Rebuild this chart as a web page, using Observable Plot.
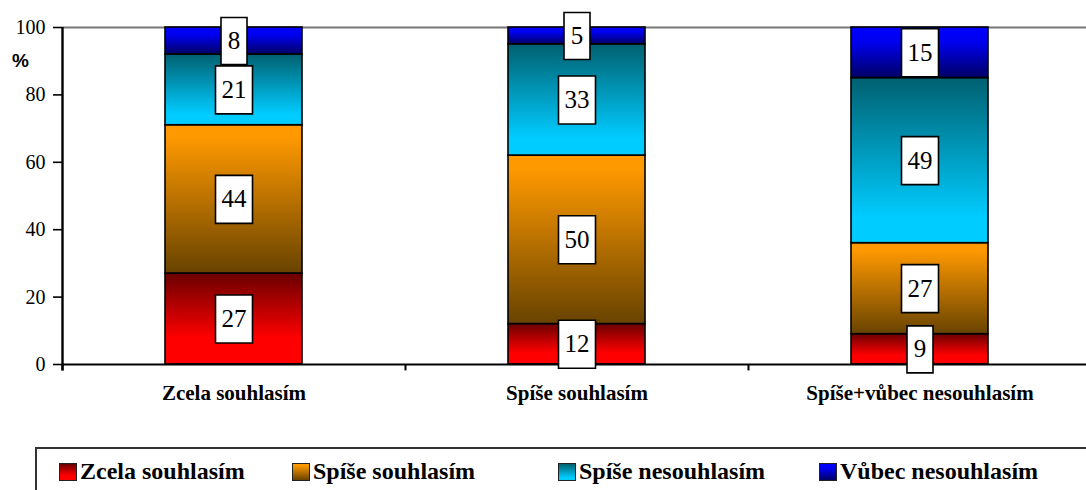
<!DOCTYPE html>
<html>
<head>
<meta charset="utf-8">
<script src="https://cdn.jsdelivr.net/npm/d3@7"></script>
<script src="https://cdn.jsdelivr.net/npm/@observablehq/plot@0.6"></script>
<style>
  html, body { margin: 0; padding: 0; background: #fff; overflow: hidden; }
  #wrap { position: relative; width: 1086px; height: 490px; overflow: hidden; }
  #pct { position: absolute; left: 12px; top: 50px; font-family: 'Liberation Sans', sans-serif; font-weight: bold; font-size: 19px; }
  #legend { position: absolute; left: 35px; top: 447px; width: 1100px; height: 80px; border: 2px solid #333; box-sizing: border-box; }
  .item { position: absolute; top: 9px; display: flex; align-items: center; font-family: 'Liberation Serif', serif; font-weight: bold; font-size: 24px; white-space: nowrap; }
  .sw { width: 18px; height: 18px; border: 1.5px solid #222; margin-right: 3px; box-sizing: border-box; }
</style>
</head>
<body>
<div id="wrap"><div id="pct">%</div><div id="legend"></div></div>
<script>
const categories = ["Zcela souhlasím", "Spíše souhlasím", "Spíše+vůbec nesouhlasím"];
const series = ["Zcela souhlasím", "Spíše souhlasím", "Spíše nesouhlasím", "Vůbec nesouhlasím"];
const valuesZcela = [27, 44, 21, 8];
const valuesSpise = [12, 50, 33, 5];
const valuesNesouhlas = [9, 27, 49, 15];
const yTicks = [0, 20, 40, 60, 80, 100];

const gradients = [
  {id: "gRed", stops: [[0, "#6a0000"], [0.72, "#ff0000"], [1, "#ff0000"]]},
  {id: "gOrange", stops: [[0, "#ff9900"], [0.08, "#ff9900"], [1, "#684300"]]},
  {id: "gCyan", stops: [[0, "#006070"], [0.85, "#00ccff"], [1, "#00ccff"]]},
  {id: "gBlue", stops: [[0, "#0000ff"], [0.3, "#0000ee"], [1, "#000066"]]}
];

const valueLists = [valuesZcela, valuesSpise, valuesNesouhlas];
const rows = [];
categories.forEach((cat, i) => {
  let cum = 0;
  series.forEach((s, j) => {
    const v = valueLists[i][j];
    rows.push({cat, series: s, value: v, mid: cum + v / 2});
    cum += v;
  });
});

function rectSymbol(w, h) {
  return {draw(ctx) {
    ctx.moveTo(-w / 2, -h / 2); ctx.lineTo(w / 2, -h / 2);
    ctx.lineTo(w / 2, h / 2); ctx.lineTo(-w / 2, h / 2); ctx.closePath();
  }};
}

const serif = "'Liberation Serif', serif";
const step = (1091 - 62) / 3;

const chart = Plot.plot({
  width: 1086,
  height: 430,
  marginLeft: 62,
  marginRight: 0,
  marginTop: 27,
  marginBottom: 66,
  style: {fontFamily: serif, color: "#000", overflow: "visible", background: "transparent"},
  x: {domain: categories, range: [62, 1091], paddingInner: 0.6, paddingOuter: 0.3, label: null},
  y: {domain: [0, 100], label: null},
  color: {domain: series, range: gradients.map(g => `url(#${g.id})`)},
  marks: [
    Plot.ruleY([100], {stroke: "#777", strokeWidth: 2}),
    Plot.barY(rows, {x: "cat", y: "value", fill: "series", stroke: "#000", strokeWidth: 1.6}),
    Plot.ruleY([0], {stroke: "#000", strokeWidth: 2.2}),
    Plot.ruleX(categories, {x: d => d, dx: -step / 2, y1: -1.9, y2: 0, stroke: "#000", strokeWidth: 2}),
    Plot.ruleX([categories[0]], {x: d => d, dx: -step / 2, y1: -1.9, y2: 100, stroke: "#000", strokeWidth: 2.4}),
    Plot.axisY(yTicks, {tickSize: 9, tickPadding: 8, fontSize: 20, fontFamily: serif, strokeWidth: 1.6, label: null}),
    Plot.axisX({tickSize: 0, tickPadding: 21, fontSize: 21, fontWeight: "bold", fontFamily: serif, label: null}),
    Plot.dot(rows.filter(d => d.value >= 10), {x: "cat", y: "mid", r: 5, symbol: rectSymbol(37, 48), fill: "#fff", stroke: "#000", strokeWidth: 1.6}),
    Plot.dot(rows.filter(d => d.value < 10), {x: "cat", y: "mid", r: 5, symbol: rectSymbol(26, 47), fill: "#fff", stroke: "#000", strokeWidth: 1.6}),
    Plot.text(rows, {x: "cat", y: "mid", text: d => String(d.value), fontSize: 25, fontFamily: serif, fill: "#000"})
  ]
});

// gradient definitions
const NS = "http://www.w3.org/2000/svg";
const defs = document.createElementNS(NS, "defs");
gradients.forEach(g => {
  const lg = document.createElementNS(NS, "linearGradient");
  lg.setAttribute("id", g.id);
  lg.setAttribute("x1", "0"); lg.setAttribute("y1", "0");
  lg.setAttribute("x2", "0"); lg.setAttribute("y2", "1");
  g.stops.forEach(([o, c]) => {
    const st = document.createElementNS(NS, "stop");
    st.setAttribute("offset", o);
    st.setAttribute("stop-color", c);
    lg.appendChild(st);
  });
  defs.appendChild(lg);
});
chart.insertBefore(defs, chart.firstChild);
chart.style.position = "absolute";
chart.style.left = "0px";
chart.style.top = "0px";
document.getElementById("wrap").appendChild(chart);

// legend
const legendLefts = [22, 255, 521, 782];
const legend = document.getElementById("legend");
series.forEach((s, i) => {
  const g = gradients[i];
  const item = document.createElement("div");
  item.className = "item";
  item.style.left = legendLefts[i] + "px";
  const sw = document.createElement("div");
  sw.className = "sw";
  sw.style.background = `linear-gradient(to bottom, ${g.stops.map(([o, c]) => `${c} ${o * 100}%`).join(", ")})`;
  const label = document.createElement("span");
  label.textContent = s;
  item.appendChild(sw);
  item.appendChild(label);
  legend.appendChild(item);
});
</script>
</body>
</html>
